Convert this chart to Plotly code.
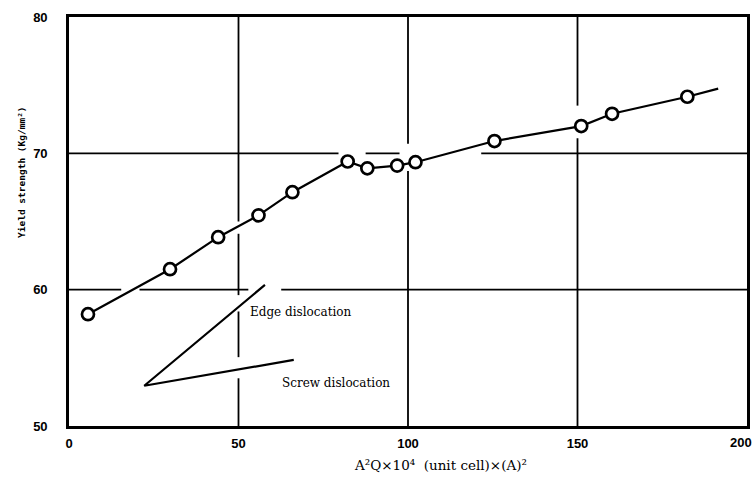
import plotly.graph_objects as go

# ---- data ----
x_vals = [5.6, 29.8, 44.0, 55.9, 65.9, 82.2, 88.0, 96.8, 102.2, 125.5, 151.1, 160.2, 182.4]
y_vals = [58.2, 61.5, 63.85, 65.45, 67.15, 69.4, 68.9, 69.1, 69.35, 70.9, 72.0, 72.9, 74.15]
line_end_x = 191.5
line_end_y = 74.75

# two reference lines (apex, edge end, screw end)
apex = (22.2, 52.95)
edge_end = (57.8, 60.35)
screw_end = (66.3, 54.85)

x_ticks = [0, 50, 100, 150, 200]
y_ticks = [50, 60, 70, 80]

# grid line segments (gaps where other lines cross, as in the drawing)
vgrid = {50: [(65.0, 80), (59.6, 64.1), (55.05, 58.4), (50, 53.5)],
         100: [(70.7, 80), (50, 68.7)],
         150: [(73.5, 80), (50, 71.1)]}
hgrid = {60: [(0, 15.4), (20.8, 52.9), (62.6, 200)],
         70: [(0, 79.5), (87.5, 97.5), (121.6, 200)]}

serif = "DejaVu Serif"
sans = "Liberation Sans"
mono = "DejaVu Sans Mono"

fig = go.Figure()

# grid segments
for gx, segs in vgrid.items():
    for (y0, y1) in segs:
        fig.add_shape(type="line", x0=gx, x1=gx, y0=y0, y1=y1, xref="x", yref="y",
                      line=dict(color="black", width=1.8), layer="below")
for gy, segs in hgrid.items():
    for (x0, x1) in segs:
        fig.add_shape(type="line", x0=x0, x1=x1, y0=gy, y1=gy, xref="x", yref="y",
                      line=dict(color="black", width=1.8), layer="below")

# edge / screw dislocation lines
fig.add_trace(go.Scatter(x=[edge_end[0], apex[0], screw_end[0]],
                         y=[edge_end[1], apex[1], screw_end[1]],
                         mode="lines", line=dict(color="black", width=2.2),
                         hoverinfo="skip", showlegend=False))

# data line
fig.add_trace(go.Scatter(x=x_vals + [line_end_x], y=y_vals + [line_end_y],
                         mode="lines", line=dict(color="black", width=2.2),
                         showlegend=False))
# markers
fig.add_trace(go.Scatter(x=x_vals, y=y_vals, mode="markers",
                         marker=dict(symbol="circle", size=12, color="white",
                                     line=dict(color="black", width=2.7)),
                         showlegend=False))

fig.add_annotation(x=52.9, y=58.35, text="Edge dislocation", showarrow=False,
                   xanchor="left", yanchor="middle",
                   font=dict(family=serif, size=12, color="black"))
fig.add_annotation(x=62.3, y=53.15, text="Screw dislocation", showarrow=False,
                   xanchor="left", yanchor="middle",
                   font=dict(family=serif, size=12, color="black"))

# last x tick label sits at the right edge, as in the drawing
fig.add_annotation(x=x_ticks[-1], y=0, xref="x", yref="paper", yshift=-16, xshift=-6,
                   text=str(x_ticks[-1]), showarrow=False,
                   xanchor="center", yanchor="middle",
                   font=dict(family=sans, size=13, color="black", weight="bold"))

# axis titles
fig.add_annotation(x=0.548, xref="paper", y=-0.095, yref="paper",
                   text="A²Q×10⁴  (unit cell)×(A)²", showarrow=False,
                   xanchor="center", yanchor="middle",
                   font=dict(family=serif, size=13.5, color="black"))
fig.add_annotation(x=-0.07, xref="paper", y=0.62, yref="paper",
                   text="Yield strength (Kg/mm²)", showarrow=False, textangle=-90,
                   xanchor="center", yanchor="middle",
                   font=dict(family=mono, size=9.5, color="black", weight="bold"))

fig.update_layout(
    width=753, height=477,
    margin=dict(l=69, r=3, t=17, b=51),
    paper_bgcolor="white", plot_bgcolor="white",
    showlegend=False,
    xaxis=dict(range=[0, 200], tickvals=x_ticks[:-1], showgrid=False, zeroline=False,
               showline=True, mirror=True, linecolor="black", linewidth=2.6,
               ticks="", ticklabelstandoff=4,
               tickfont=dict(family=sans, size=13, color="black", weight="bold")),
    yaxis=dict(range=[50, 80], tickvals=y_ticks, showgrid=False, zeroline=False,
               showline=True, mirror=True, linecolor="black", linewidth=2.6,
               ticks="", ticklabelstandoff=16,
               tickfont=dict(family=sans, size=13, color="black", weight="bold")),
)

fig.write_html("out.html")
